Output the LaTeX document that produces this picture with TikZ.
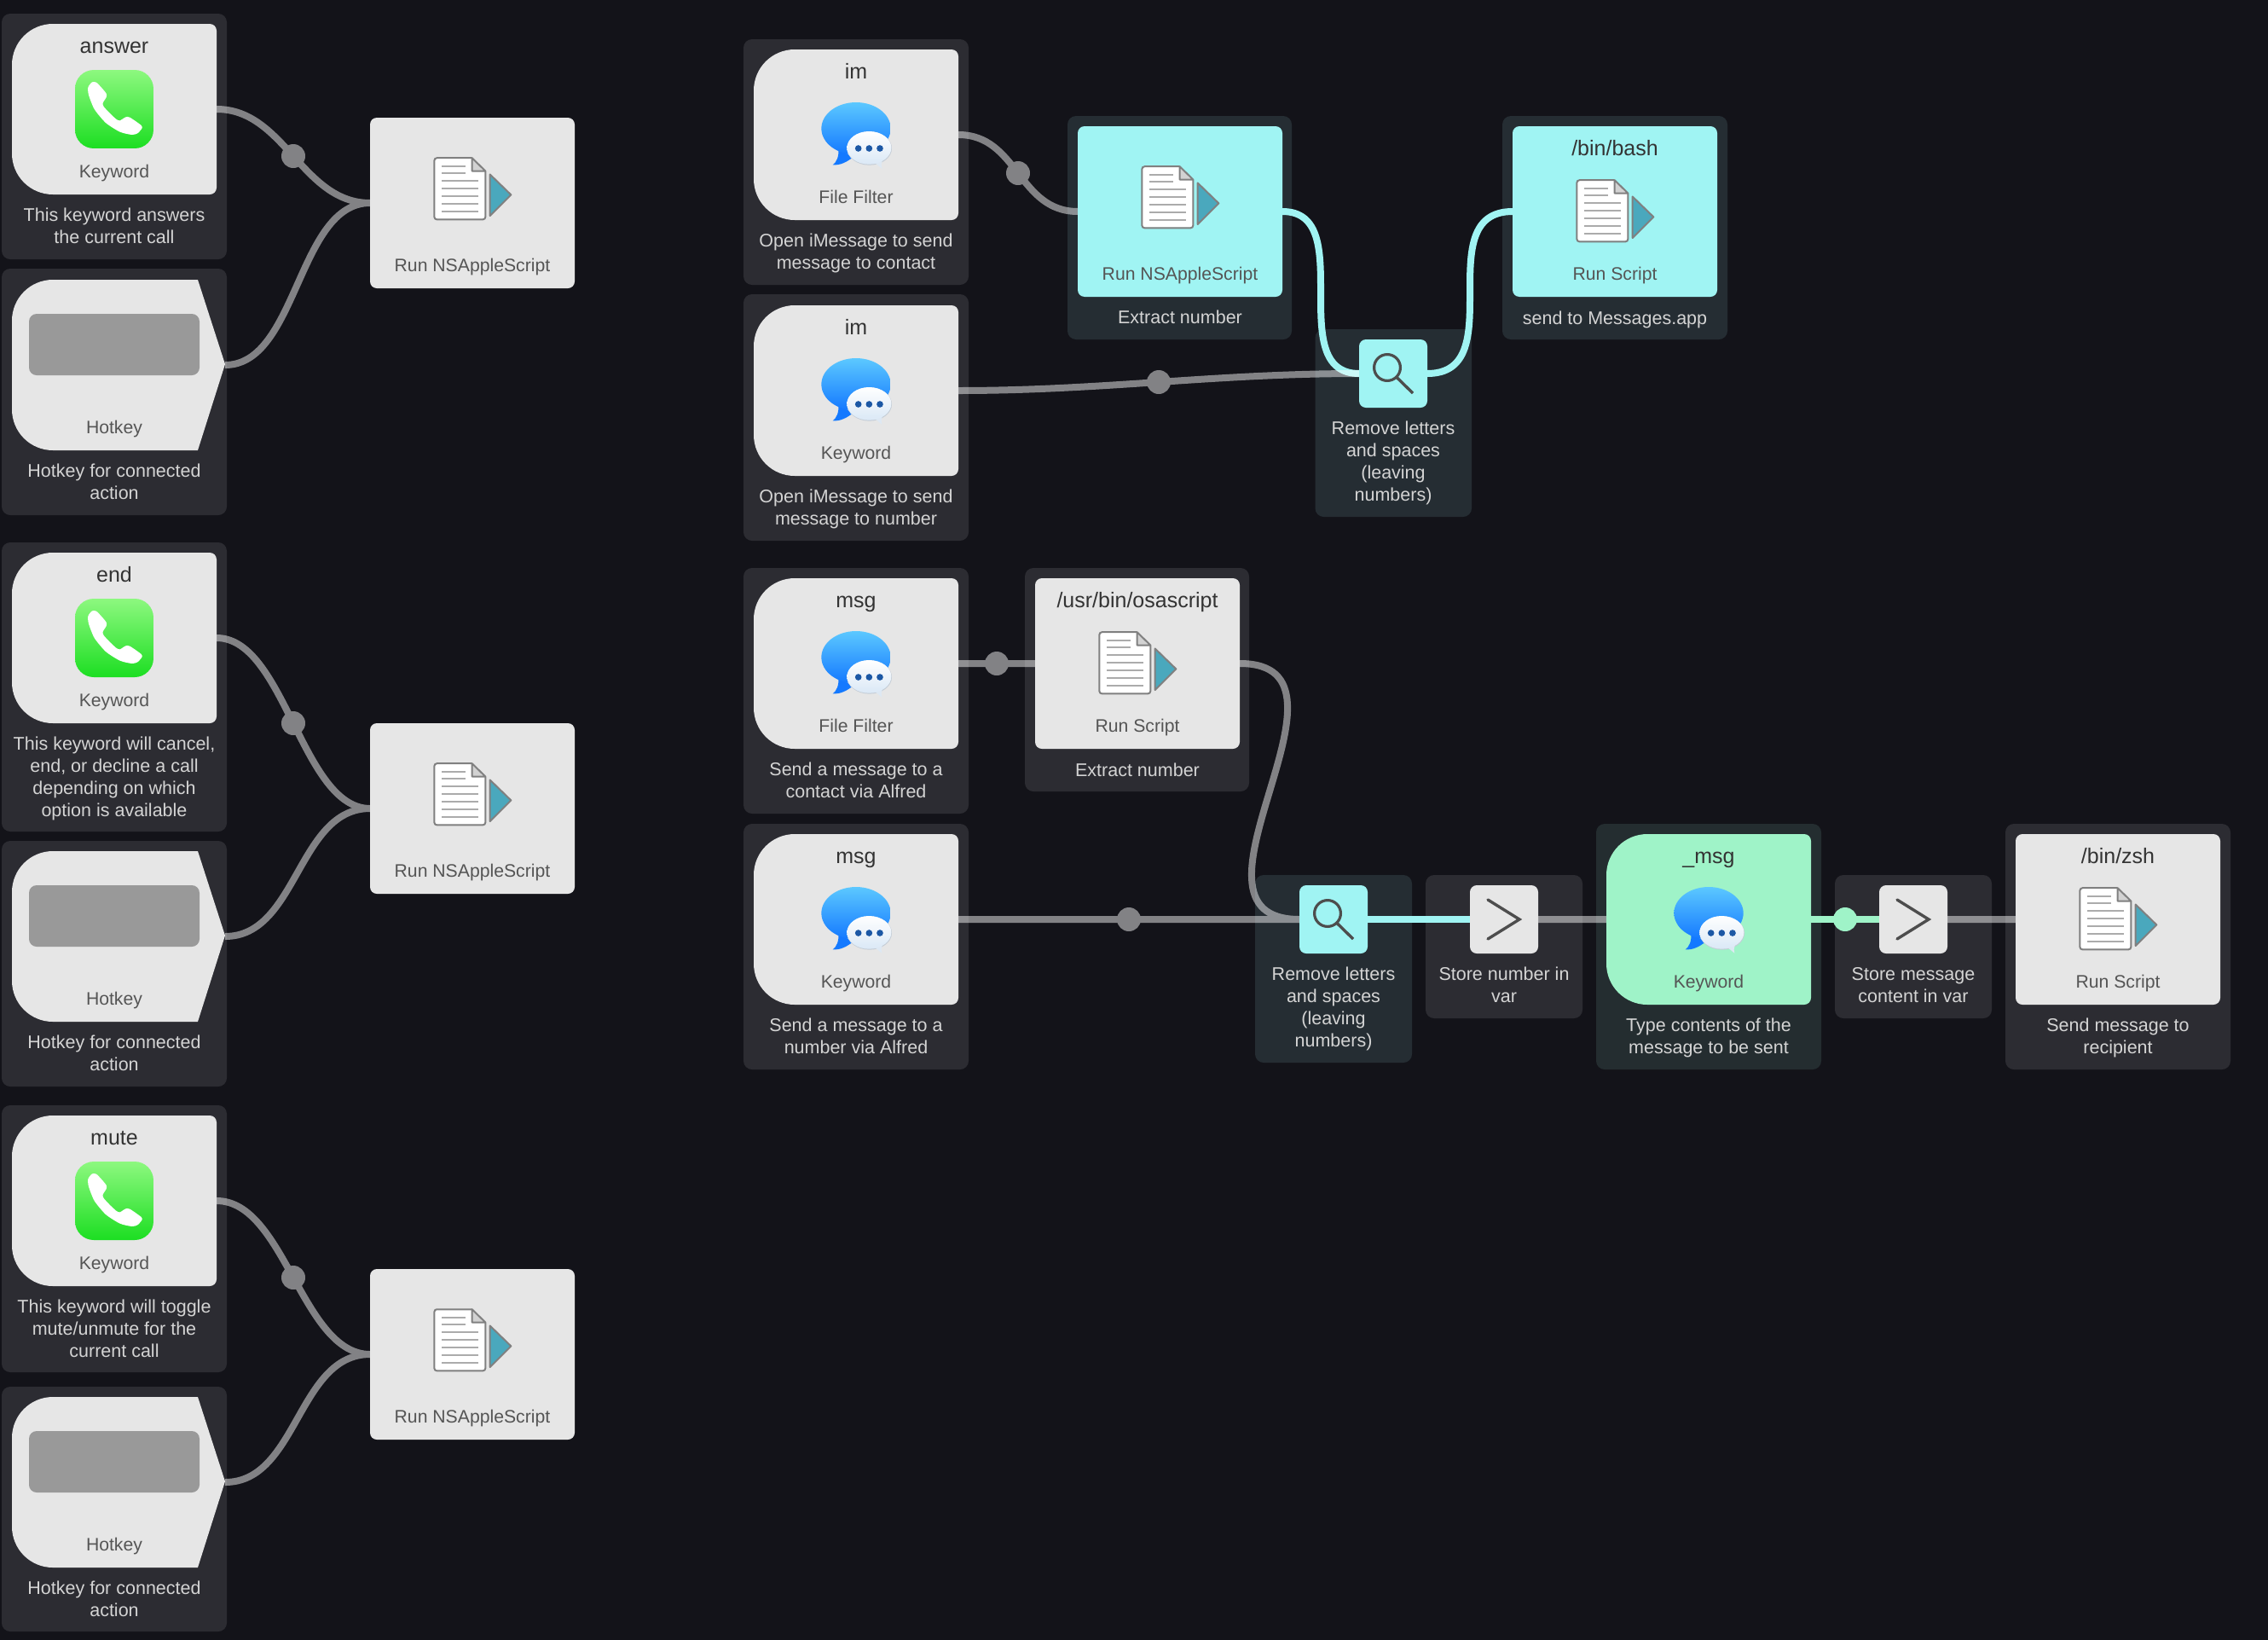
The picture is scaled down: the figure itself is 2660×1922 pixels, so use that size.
\documentclass[tikz,border=0pt]{standalone}
\usepackage{fontspec}
\setmainfont{Liberation Sans}
\definecolor{canvas}{HTML}{131319}
\definecolor{panelgrey}{HTML}{2C2C32}
\definecolor{panelcyan}{HTML}{252D33}
\definecolor{panelgreen}{HTML}{242D30}
\definecolor{nodegrey}{HTML}{E6E6E6}
\definecolor{nodecyan}{HTML}{A0F4F3}
\definecolor{nodegreen}{HTML}{9FF3C8}
\definecolor{keycap}{HTML}{999999}
\definecolor{inkdark}{HTML}{333333}
\definecolor{inkmid}{HTML}{555555}
\definecolor{inkdesc}{HTML}{D4D4D4}
\definecolor{glyph}{HTML}{4D4D4D}
\definecolor{docedge}{HTML}{808080}
\definecolor{docline}{HTML}{ABABAB}
\definecolor{docfold}{HTML}{D2D2D2}
\definecolor{playfill}{HTML}{4AA8BD}
\definecolor{phonetop}{HTML}{8DF87F}
\definecolor{phonebot}{HTML}{1CDE22}
\definecolor{bubtop}{HTML}{5CC8FF}
\definecolor{bubbot}{HTML}{1479FF}
\definecolor{smallshadow}{HTML}{C4CDD6}
\definecolor{smalltail}{HTML}{DDE8F3}
\definecolor{smallbot}{HTML}{DAE8F6}
\definecolor{bubdots}{HTML}{1C58A5}
\pgfdeclarelayer{panels}
\pgfdeclarelayer{hotwires}
\pgfdeclarelayer{greywires}
\pgfsetlayers{panels,hotwires,greywires,main}
\tikzset{
  boxnode/.style={anchor=north west,inner sep=0pt,outer sep=0pt,minimum width=240pt,minimum height=200pt,rounded corners=8pt},
  smallnode/.style={anchor=north west,inner sep=0pt,outer sep=0pt,minimum width=80pt,minimum height=80pt,rounded corners=8pt},
  ghost/.style={anchor=north west,inner sep=0pt,outer sep=0pt,minimum height=200pt},
  titletext/.style={text=inkdark,font=\fontsize{25}{30}\selectfont,inner sep=0pt,execute at begin node=\strut},
  labeltext/.style={text=inkmid,font=\fontsize{21.2}{26}\selectfont,inner sep=0pt,execute at begin node=\strut},
  desctext/.style={text=inkdesc,font=\fontsize{21.5}{26}\selectfont,align=center,inner sep=0pt,execute at begin node=\strut,execute at end node=\strut},
  greywire/.style={draw=white,line width=8pt},
  hotwire/.style={line width=8pt},
  dotnode/.style={circle,fill=white,minimum size=28pt,inner sep=0pt},
}
% panel behind a node
\newcommand\panelat[5]{\begin{pgfonlayer}{panels}\fill[#5,rounded corners=10pt] (#1,#2) rectangle (#3,#4);\end{pgfonlayer}}
% rounded rectangular action node (no big corners)
\newcommand\actionat[4]{\node[boxnode,fill=#4] (#1) at (#2,#3) {};}
% trigger node: big rounded left corners
\newcommand\triggerat[4]{%
  \fill[#4] (#2+120,#3) [rounded corners=8pt] -- (#2+240,#3) -- (#2+240,#3+200) -- (#2+120,#3+200) [rounded corners=48pt] -- (#2,#3+200) -- (#2,#3) -- cycle;
  \node[ghost,minimum width=240pt] (#1) at (#2,#3) {};}
% hotkey node
\newcommand\hotkeyat[3]{%
  \fill[nodegrey] (#2+120,#3) -- (#2+218,#3) -- (#2+250,#3+99) -- (#2+218,#3+200) -- (#2+120,#3+200) [rounded corners=48pt] -- (#2,#3+200) -- (#2,#3) -- cycle;
  \fill[keycap,rounded corners=9pt] (#2+20,#3+40) rectangle (#2+220,#3+112);
  \node[ghost,minimum width=250pt] (#1) at (#2,#3) {};
  \node[labeltext] (#1-label) at (#2+120,#3+174.8) {Hotkey};}
\newcommand\titleat[4]{\node[titletext] (#1-title) at (#2+120,#3+28.5) {#4};}
\newcommand\labelat[4]{\node[labeltext] (#1-label) at (#2+120,#3+174.8) {#4};}
\newcommand\descat[4]{\node[desctext] (#1-desc) at (#2,#3+2.6) {#4};}
% document + play icon, centred on (#1,#2)
\newcommand\docicon[2]{%
  \begin{scope}[shift={(#1,#2)},x=.357pt,y=-.357pt,shift={(-1158,-360)}]
    \fill[white] (1035,259) -- (1157,259) -- (1200,300) -- (1200,457) -- (1035,457) -- cycle;
    \foreach \yy in {283,308} \draw[docline,line width=2pt] (1058,\yy) -- (1135,\yy);
    \foreach \yy in {333,358,383,408,433} \draw[docline,line width=2pt] (1058,\yy) -- (1177,\yy);
    \fill[docfold] (1157,256) -- (1202,300) -- (1157,300) -- cycle;
    \draw[docedge,line width=2pt,rounded corners=3pt] (1157,257) -- (1033,257) -- (1033,459) -- (1201,459) -- (1201,300);
    \draw[docedge,line width=2pt,line join=round] (1157,257) -- (1201,300) -- (1157,300) -- cycle;
    \draw[docedge,fill=playfill,line width=2pt,line join=round] (1216,311) -- (1285,378) -- (1216,447) -- cycle;
  \end{scope}}
% phone icon
\newcommand\phoneicon[2]{%
  \begin{scope}[shift={(#1,#2)},x=.3333pt,y=-.3333pt,shift={(-150,-150)}]
    \shade[rounded corners=22pt,top color=phonetop,bottom color=phonebot] (12,12) rectangle (288,288);
    \fill[white] plot[smooth cycle,tension=.4] coordinates {(72,55) (87,56) (104,73) (122,95) (122,108) (110,128) (113,141) (135,165) (158,186) (170,190) (190,178) (205,179) (245,207) (247,218) (232,235) (212,240) (170,230) (120,198) (80,150) (60,100) (58,73)};
  \end{scope}}
% messages icon
\newcommand\msgicon[2]{%
  \begin{scope}[shift={(#1,#2)},x=.3333pt,y=-.3333pt,shift={(-150,-135)}]
    \fill[bubbot] (88,195) .. controls (90,220) and (82,240) .. (68,250) .. controls (95,252) and (118,240) .. (140,222) -- cycle;
    \shade[top color=bubtop,bottom color=bubbot] (150,122) ellipse (122 and 92);
    \fill[smallshadow] (197,192) ellipse (79 and 59);
    \fill[smalltail] (212,240) .. controls (224,248) and (232,256) .. (241,263) .. controls (238,254) and (238,246) .. (242,236) -- cycle;
    \shade[top color=white,bottom color=smallbot] (196,190) ellipse (78 and 58);
    \foreach \xx in {158,196,234} \fill[bubdots] (\xx,192) circle (11.5);
  \end{scope}}
\newcommand\magnifier[2]{%
  \begin{scope}[shift={(#1,#2)}]
    \draw[glyph,line width=3.2pt] (-7,-7) circle (15.4);
    \draw[glyph,line width=3.4pt] (4.3,4.7) -- (23,23);
  \end{scope}}
\newcommand\chevronicon[2]{%
  \begin{scope}[shift={(#1,#2)}]
    \draw[glyph,line width=3.4pt,line cap=round,line join=miter] (-19,-23) -- (18,0) -- (-19,23);
  \end{scope}}
\begin{document}
\begin{tikzpicture}[x=1pt,y=-1pt]
\useasboundingbox (0,0) rectangle (2660,1922);
\begin{pgfonlayer}{panels}\fill[canvas] (-6,-6) rectangle (2666,1928);\end{pgfonlayer}
% ===== panels =====
\panelat{2}{16}{266}{304}{panelgrey}
\panelat{2}{315}{266}{604}{panelgrey}
\panelat{2}{636}{266}{975}{panelgrey}
\panelat{2}{986}{266}{1274}{panelgrey}
\panelat{2}{1296}{266}{1609}{panelgrey}
\panelat{2}{1626}{266}{1913}{panelgrey}
\panelat{872}{46}{1136}{334}{panelgrey}
\panelat{872}{345}{1136}{634}{panelgrey}
\panelat{1252}{136}{1515}{398}{panelcyan}
\panelat{1762}{136}{2026}{398}{panelcyan}
\panelat{1542.5}{386}{1726}{606}{panelcyan}
\panelat{872}{666}{1136}{954}{panelgrey}
\panelat{1202}{666}{1465}{928}{panelgrey}
\panelat{872}{966}{1136}{1254}{panelgrey}
\panelat{1472}{1026}{1656}{1246}{panelcyan}
\panelat{1672}{1026}{1856}{1194}{panelgrey}
\panelat{1872}{966}{2136}{1254}{panelgreen}
\panelat{2152}{1026}{2336}{1194}{panelgrey}
\panelat{2352}{966}{2616}{1254}{panelgrey}
% ===== column 1 =====
\triggerat{answer}{14}{28}{nodegrey}
\titleat{answer}{14}{28}{answer}\labelat{answer}{14}{28}{Keyword}\phoneicon{134}{128}
\descat{answer}{134}{266}{This keyword answers\\the current call}
\hotkeyat{hotA}{14}{328}
\descat{hotA}{134}{566}{Hotkey for connected\\action}
\actionat{runA}{434}{138}{nodegrey}\labelat{runA}{434}{138}{Run NSAppleScript}\docicon{554}{222}
\triggerat{end}{14}{648}{nodegrey}
\titleat{end}{14}{648}{end}\labelat{end}{14}{648}{Keyword}\phoneicon{134}{748}
\descat{end}{134}{912}{This keyword will cancel,\\end, or decline a call\\depending on which\\option is available}
\hotkeyat{hotB}{14}{998}
\descat{hotB}{134}{1236}{Hotkey for connected\\action}
\actionat{runB}{434}{848}{nodegrey}\labelat{runB}{434}{848}{Run NSAppleScript}\docicon{554}{932}
\triggerat{mute}{14}{1308}{nodegrey}
\titleat{mute}{14}{1308}{mute}\labelat{mute}{14}{1308}{Keyword}\phoneicon{134}{1408}
\descat{mute}{134}{1559}{This keyword will toggle\\mute/unmute for the\\current call}
\hotkeyat{hotC}{14}{1638}
\descat{hotC}{134}{1876}{Hotkey for connected\\action}
\actionat{runC}{434}{1488}{nodegrey}\labelat{runC}{434}{1488}{Run NSAppleScript}\docicon{554}{1572}
% ===== im workflow =====
\triggerat{imA}{884}{58}{nodegrey}
\titleat{imA}{884}{58}{im}\labelat{imA}{884}{58}{File Filter}\msgicon{1004}{155}
\descat{imA}{1004}{296}{Open iMessage to send\\message to contact}
\triggerat{imB}{884}{358}{nodegrey}
\titleat{imB}{884}{358}{im}\labelat{imB}{884}{358}{Keyword}\msgicon{1004}{455}
\descat{imB}{1004}{596}{Open iMessage to send\\message to number}
\actionat{extractA}{1264}{148}{nodecyan}\labelat{extractA}{1264}{148}{Run NSAppleScript}\docicon{1384}{232}
\descat{extractA}{1384}{372}{Extract number}
\actionat{bash}{1774}{148}{nodecyan}\titleat{bash}{1774}{148}{/bin/bash}\labelat{bash}{1774}{148}{Run Script}\docicon{1894}{248}
\descat{bash}{1894}{373}{send to Messages.app}
\node[smallnode,fill=nodecyan] (removeA) at (1594,398) {};\magnifier{1634}{438}
\descat{removeA}{1634}{542}{Remove letters\\and spaces\\(leaving\\numbers)}
% ===== msg workflow =====
\triggerat{msgA}{884}{678}{nodegrey}
\titleat{msgA}{884}{678}{msg}\labelat{msgA}{884}{678}{File Filter}\msgicon{1004}{775}
\descat{msgA}{1004}{916}{Send a message to a\\contact via Alfred}
\actionat{osa}{1214}{678}{nodegrey}\titleat{osa}{1214}{678}{/usr/bin/osascript}\labelat{osa}{1214}{678}{Run Script}\docicon{1334}{778}
\descat{osa}{1334}{903}{Extract number}
\triggerat{msgB}{884}{978}{nodegrey}
\titleat{msgB}{884}{978}{msg}\labelat{msgB}{884}{978}{Keyword}\msgicon{1004}{1075}
\descat{msgB}{1004}{1216}{Send a message to a\\number via Alfred}
\node[smallnode,fill=nodecyan] (removeB) at (1524,1038) {};\magnifier{1564}{1078}
\descat{removeB}{1564}{1182}{Remove letters\\and spaces\\(leaving\\numbers)}
\node[smallnode,fill=nodegrey] (storeA) at (1724,1038) {};\chevronicon{1764}{1078}
\descat{storeA}{1764}{1156}{Store number in\\var}
\triggerat{typeMsg}{1884}{978}{nodegreen}
\titleat{typeMsg}{1884}{978}{\_msg}\labelat{typeMsg}{1884}{978}{Keyword}\msgicon{2004}{1075}
\descat{typeMsg}{2004}{1216}{Type contents of the\\message to be sent}
\node[smallnode,fill=nodegrey] (storeB) at (2204,1038) {};\chevronicon{2244}{1078}
\descat{storeB}{2244}{1156}{Store message\\content in var}
\actionat{zsh}{2364}{978}{nodegrey}\titleat{zsh}{2364}{978}{/bin/zsh}\labelat{zsh}{2364}{978}{Run Script}\docicon{2484}{1078}
\descat{zsh}{2484}{1216}{Send message to\\recipient}
% ===== highlighted wires =====
\begin{pgfonlayer}{hotwires}
  \draw[hotwire,nodecyan] (extractA.east) .. controls +(90,0) and +(-90,0) .. (removeA.west);
  \draw[hotwire,nodecyan] (removeA.east) .. controls +(100,0) and +(-100,0) .. (bash.west);
  \draw[hotwire,nodecyan] (removeB.east) -- (storeA.west);
  \draw[hotwire,nodegreen] (typeMsg.east) -- node[dotnode,pos=.5,fill=nodegreen] (dotG) {} (storeB.west);
\end{pgfonlayer}
% ===== grey wires =====
\begin{pgfonlayer}{greywires}
\begin{scope}[transparency group,opacity=.47]
  \draw[greywire] (answer.east) .. controls +(80,0) and +(-80,0) .. node[dotnode,pos=.5] (dotA) {} (runA.west);
  \draw[greywire] (hotA.east) .. controls +(85,0) and +(-85,0) .. (runA.west);
  \draw[greywire] (end.east) .. controls +(80,0) and +(-80,0) .. node[dotnode,pos=.5] (dotB) {} (runB.west);
  \draw[greywire] (hotB.east) .. controls +(85,0) and +(-85,0) .. (runB.west);
  \draw[greywire] (mute.east) .. controls +(80,0) and +(-80,0) .. node[dotnode,pos=.5] (dotC) {} (runC.west);
  \draw[greywire] (hotC.east) .. controls +(85,0) and +(-85,0) .. (runC.west);
  \draw[greywire] (imA.east) .. controls +(70,0) and +(-70,0) .. node[dotnode,pos=.5] (dotD) {} (extractA.west);
  \draw[greywire] (imB.east) .. controls +(170,0) and +(-170,0) .. node[dotnode,pos=.5] (dotE) {} (removeA.west);
  \draw[greywire] (msgA.east) -- node[dotnode,pos=.5] (dotF) {} (osa.west);
  \draw[greywire] (msgB.east) -- node[dotnode,pos=.5] (dotH) {} (removeB.west);
  \draw[greywire] (osa.east) .. controls +(160,0) and +(-160,0) .. (removeB.west);
  \draw[greywire] (storeA.east) -- (typeMsg.west);
  \draw[greywire] (storeB.east) -- (zsh.west);
\end{scope}
\end{pgfonlayer}
\end{tikzpicture}
\end{document}
